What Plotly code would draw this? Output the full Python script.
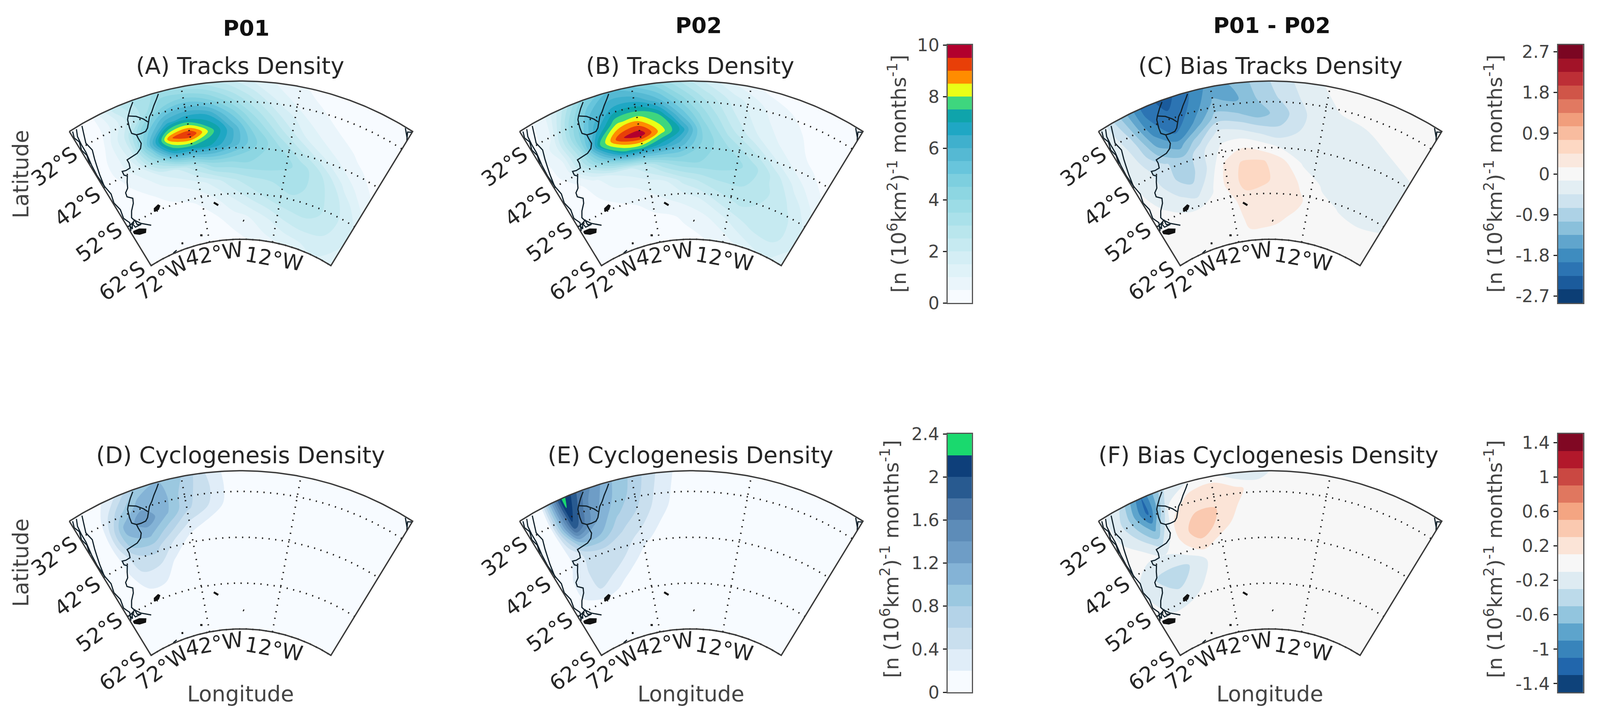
import numpy as np
import plotly.graph_objects as go
from plotly.colors import sample_colorscale

W, H = 4196, 1842

# ---------- field grid (degrees) ----------
lons = [-72, -66, -60, -54, -48, -42, -36, -30, -24, -16, -8, 0, 9, 18]
lats = [-27.5, -31, -34.5, -38, -41, -45, -49, -53, -57, -62]

tracks_p01 = [
    [.2, .3, 2.2, 3.2, 3.6, 3.2, 2.8, 2.2, 1.5, .8, .4, .25, .2, .2],
    [.2, .3, 1.5, 3.0, 4.5, 5.0, 4.5, 3.5, 2.5, 1.2, .6, .3, .2, .2],
    [.2, .5, 2.0, 4.5, 6.3, 6.8, 6.5, 5.0, 3.5, 2.0, 1.0, .5, .3, .2],
    [.2, .6, 1.8, 5.5, 8.9, 9.6, 7.8, 6.2, 4.5, 2.8, 1.5, .8, .4, .2],
    [.2, .6, 1.5, 4.0, 6.8, 7.2, 7.0, 6.0, 4.8, 3.6, 2.4, 1.3, .6, .3],
    [.2, .4, .8, 1.5, 2.0, 3.0, 4.0, 4.0, 4.0, 3.8, 3.4, 2.5, 1.2, .5],
    [.2, .2, .4, .7, 1.0, 1.3, 1.8, 2.4, 2.8, 3.0, 3.2, 2.8, 2.0, 1.0],
    [.1, .2, .2, .3, .4, .6, 1.0, 1.5, 2.0, 2.5, 2.8, 2.8, 2.2, 1.5],
    [.1, .1, .1, .2, .2, .3, .5, .8, 1.0, 1.5, 2.0, 2.2, 2.0, 1.5],
    [.1, .1, .1, .1, .2, .2, .2, .3, .5, .8, 1.0, 1.2, 1.5, 1.2],
]
tracks_p02 = [
    [.3, .6, 2.5, 4.5, 5.5, 5.0, 4.2, 3.0, 2.0, 1.0, .4, .2, .1, .1],
    [.2, .8, 3.5, 5.5, 6.5, 6.6, 5.6, 4.2, 3.0, 1.8, 1.0, .5, .2, .1],
    [.2, 1.3, 4.0, 6.2, 7.9, 8.2, 7.6, 5.4, 3.8, 2.2, 1.2, .7, .3, .2],
    [.2, 1.0, 3.5, 7.5, 9.4, 9.9, 8.3, 6.9, 4.5, 2.8, 1.6, .9, .4, .2],
    [.2, .8, 3.0, 5.3, 7.4, 7.6, 6.8, 5.8, 4.5, 3.5, 2.5, 1.3, .6, .3],
    [.2, .3, .8, 1.5, 1.8, 2.5, 3.5, 4.0, 4.0, 3.8, 3.4, 2.4, 1.2, .5],
    [.2, .2, .5, .8, 1.0, 1.2, 1.5, 2.2, 2.6, 3.0, 3.0, 2.6, 1.9, 1.0],
    [.1, .2, .3, .3, .5, .8, 1.0, 1.2, 1.5, 2.2, 2.6, 2.4, 2.2, 1.5],
    [.1, .1, .1, .2, .3, .3, .4, .6, .8, 1.2, 1.8, 2.2, 2.2, 1.6],
    [.1, .1, .1, .1, .1, .2, .2, .3, .4, .6, .9, 1.3, 1.6, 1.2],
]
tracks_bias = [
    [-.1, -1.0, -2.0, -2.4, -2.0, -1.5, -1.3, -.9, -.6, -.2, -.05, 0, 0, 0],
    [-.1, -.8, -1.9, -2.2, -1.9, -1.3, -1.4, -1.0, -.7, -.3, -.1, -.1, 0, 0],
    [-.1, -.6, -1.6, -2.1, -1.6, -.9, -1.0, -1.2, -.9, -.4, -.2, -.15, -.05, 0],
    [-.1, -.5, -1.2, -1.5, -.9, -.3, -.4, -.6, -.7, -.35, -.2, -.2, -.15, -.05],
    [-.1, -.4, -.7, -1.0, -.5, -.1, .05, -.1, -.3, -.4, -.3, -.25, -.2, -.16],
    [-.1, -.3, -.7, -.9, -.45, .2, .5, .5, .3, -.2, -.3, -.25, -.25, -.17],
    [0, -.2, -.4, -.6, -.2, .25, .55, .5, .4, .1, -.2, -.25, -.25, -.17],
    [0, 0, -.1, -.1, -.05, .05, .35, .35, .2, .2, -.05, -.17, -.2, -.16],
    [0, 0, -.05, -.05, 0, .05, .2, .2, .2, .1, 0, -.05, -.1, -.1],
    [0, 0, 0, 0, 0, .05, .1, .1, .05, 0, -.1, -.1, -.05, 0],
]
genesis_p01 = [
    [.02, .05, .35, .85, 1.0, .8, .4, .1, .02, .02, .02, .02, .02, .02],
    [.02, .1, .7, 1.1, 1.1, .7, .45, .12, .02, .02, .02, .02, .02, .02],
    [.02, .15, 1.05, 1.35, 1.05, .65, .4, .1, .02, .02, .02, .02, .02, .02],
    [.02, .15, .95, 1.05, .7, .35, .15, .04, .02, .02, .02, .02, .02, .02],
    [.02, .12, .6, .7, .4, .12, .03, .02, .02, .02, .02, .02, .02, .02],
    [.02, .1, .4, .4, .15, .03, .02, .02, .02, .02, .02, .02, .02, .02],
    [.02, .08, .2, .2, .05, .02, .02, .02, .02, .02, .02, .02, .02, .02],
    [.02, .03, .05, .05, .02, .02, .02, .02, .02, .02, .02, .02, .02, .02],
    [.02, .02, .02, .02, .02, .02, .02, .02, .02, .02, .02, .02, .02, .02],
    [.02, .02, .02, .02, .02, .02, .02, .02, .02, .02, .02, .02, .02, .02],
]
genesis_p02 = [
    [.02, .1, 2.3, 1.5, 1.05, .75, .4, .12, .02, .02, .02, .02, .02, .02],
    [.02, .2, 2.15, 1.35, 1.0, .7, .35, .1, .02, .02, .02, .02, .02, .02],
    [.02, .15, 1.9, 1.25, .85, .6, .3, .08, .02, .02, .02, .02, .02, .02],
    [.02, .1, 1.0, 1.0, .65, .45, .2, .05, .02, .02, .02, .02, .02, .02],
    [.02, .15, .45, .6, .5, .3, .1, .03, .02, .02, .02, .02, .02, .02],
    [.02, .25, .45, .5, .35, .1, .03, .02, .02, .02, .02, .02, .02, .02],
    [.02, .25, .4, .3, .1, .02, .02, .02, .02, .02, .02, .02, .02, .02],
    [.02, .05, .05, .03, .02, .02, .02, .02, .02, .02, .02, .02, .02, .02],
    [.02, .02, .02, .02, .02, .02, .02, .02, .02, .02, .02, .02, .02, .02],
    [.02, .02, .02, .02, .02, .02, .02, .02, .02, .02, .02, .02, .02, .02],
]
genesis_bias = [
    [0, -.3, -1.1, -.3, -.1, 0, -.25, -.2, 0, 0, 0, 0, 0, 0],
    [0, -.4, -1.15, -.1, .2, .25, .15, 0, 0, 0, 0, 0, 0, 0],
    [0, -.3, -.8, .1, .3, .3, .1, 0, 0, 0, 0, 0, 0, 0],
    [0, -.1, -.4, .15, .45, .25, 0, 0, 0, 0, 0, 0, 0, 0],
    [0, -.1, -.1, .05, .25, .05, 0, 0, 0, 0, 0, 0, 0, 0],
    [-.1, -.3, -.35, -.3, -.1, 0, 0, 0, 0, 0, 0, 0, 0, 0],
    [-.05, -.3, -.3, -.25, 0, 0, 0, 0, 0, 0, 0, 0, 0, 0],
    [0, -.1, -.1, 0, 0, 0, 0, 0, 0, 0, 0, 0, 0, 0],
    [0, 0, 0, 0, 0, 0, 0, 0, 0, 0, 0, 0, 0, 0],
    [0, 0, 0, 0, 0, 0, 0, 0, 0, 0, 0, 0, 0, 0],
]

# ---------- geography (lon, lat) ----------
atlantic_lon = [-47.9, -48.7, -49.8, -50.7, -51.7, -52.4, -53.1, -53.9, -55.3, -56.6, -56.5, -56.2, -56.9, -58.3, -60, -61.8, -61.7, -62, -63.5, -64.6, -64.6, -63.8, -64.7, -65.4, -66.7, -66.9, -65.4, -66, -67.8, -69, -68.6, -66.9, -63.7]
atlantic_lat = [-27.9, -28.9, -30.1, -31.2, -32.1, -33.25, -34.3, -34.9, -35, -34.9, -35.7, -37, -38, -38.7, -38.9, -39.1, -40, -41, -41.1, -40.9, -41.8, -42.3, -43.5, -44.7, -45.4, -46.3, -47.2, -48.2, -49.5, -50.8, -51.5, -52.9, -54.3]
border1_lon = [-54.6, -55.7, -56.9, -57.4, -57.7, -57.7, -56.6]
border1_lat = [-27.9, -29, -30.4, -31.1, -32.9, -34.2, -34.9]
border2_lon = [-56.9, -55, -53.4, -52.5]
border2_lat = [-30.4, -31.1, -32.2, -33.1]
pacific1_lon = [-68.6, -69.2, -69.9, -69.3, -70, -70.4, -71, -71.6]
pacific1_lat = [-27.9, -29.7, -31.6, -33.6, -35.6, -37, -39.1, -41.8]
pacific2_lon = [-70.2, -70.9, -71.1, -71.1, -71.6, -71.8, -71.5, -71, -71.7, -71, -71.6, -70.5, -71.5]
pacific2_lat = [-27.9, -29.4, -31.3, -33.3, -36.4, -39, -42, -44, -46, -48, -50, -51.5, -53]
pacific3_lon = [-71.3, -71.8, -71.2, -71.8, -71.3, -71.9]
pacific3_lat = [-27.9, -29.3, -30.6, -32.4, -34, -36]
fuego_lon = [-71, -68.5, -66.3, -67, -69.4, -71, -71]
fuego_lat = [-53.6, -53.8, -54.5, -55.1, -54.8, -54.1, -53.6]
strait_lon = [-71.7, -69.8, -68.4, -68.4, -67, -69.5, -69.8, -70.8, -71, -71.7]
strait_lat = [-52.1, -51.9, -51.6, -52.7, -53.1, -53, -51.9, -53, -52.2, -53.2]
falkland_lon = [-60.4, -60, -58.2, -57.8, -58.7, -60.4]
falkland_lat = [-51.9, -51.3, -50.9, -51.2, -51.8, -51.9]
georgia_lon = [-37.6, -36]
georgia_lat = [-53.6, -54.3]
orkney_lon = [-45.6, -44.6]
orkney_lat = [-60.1, -60.2]
elephant_lon = [-54.8, -54]
elephant_lat = [-60.6, -60.7]
peninsula_lon = [-60, -58]
peninsula_lat = [-61.9, -61.6]
sandwich_lon = [-26.1, -25.7]
sandwich_lat = [-57.9, -58]
africa_lon = [16, 17.6, 18, 17, 18]
africa_lat = [-27.7, -29.3, -30, -28.2, -27.7]

# ---------- graticule / map extent ----------
lon_west, lon_east, lon_mid = -72, 18, -27
lat_north, lat_south = -27.5, -62
meridians = [-42, -12]
parallels = [-32, -42, -52, -62]
CONE = 0.711
RHO_SOUTH, RHO_PER_DEG = 445.0, 11.73


def project(lon, lat):
    lon, lat = np.asarray(lon, float), np.asarray(lat, float)
    theta = np.radians(CONE * (lon - lon_mid))
    rho = RHO_SOUTH + RHO_PER_DEG * (lat - lat_south)
    return rho * np.sin(theta), rho * np.cos(theta)


# ---------- colour bins (bottom to top) ----------
track_colors = ['#f7fbff', '#eaf5fb', '#dff2f8', '#d4eef5', '#c6eaf1', '#b9e6ed', '#aae1ea', '#9cdce6', '#8dd6e2', '#7dcfdf',
                '#68c5dc', '#55b9d3', '#3fb0cd', '#1fa7c4', '#0fa4ab', '#3ed67e', '#eaff16', '#ff8c00', '#e83f08', '#b2002d']
genesis_colors = ['#f7fbff', '#e0edf8', '#c9dfee', '#b4d3e8', '#9bc8e0', '#84b3d6', '#6e9dc6', '#5d8cb8', '#4b78a8', '#285a90', '#0e3f7a', '#1ad96e']
bias19_colors = sample_colorscale('RdBu_r', [(i + .5) / 19 for i in range(19)])
bias15_colors = sample_colorscale('RdBu_r', [(i + .5) / 15 for i in range(15)])

track_scale = dict(start=0, size=.5, n=20, colors=track_colors, ticks=[0, 2, 4, 6, 8, 10], labels=['0', '2', '4', '6', '8', '10'])
genesis_scale = dict(start=0, size=.2, n=12, colors=genesis_colors, ticks=[0, .4, .8, 1.2, 1.6, 2, 2.4], labels=['0', '0.4', '0.8', '1.2', '1.6', '2', '2.4'])
bias_t_scale = dict(start=-2.85, size=.3, n=19, colors=bias19_colors, ticks=[-2.7, -1.8, -.9, 0, .9, 1.8, 2.7], labels=['-2.7', '-1.8', '-0.9', '0', '0.9', '1.8', '2.7'])
bias_g_scale = dict(start=-1.5, size=.2, n=15, colors=bias15_colors, ticks=[-1.4, -1, -.6, -.2, .2, .6, 1, 1.4], labels=['-1.4', '-1', '-0.6', '-0.2', '0.2', '0.6', '1', '1.4'])

# ---------- layout constants (pixels of the reference picture) ----------
col_cx = [632, 1813, 3331]
row_y0 = [1057, 2054]
HALF_W, RHO_TOP, RHO_BOT = 480, 870, 360
FONT = 'DejaVu Sans'
INK, GREY = '#262626', '#444444'

panels = [
    (0, 0, tracks_p01, track_scale, '(A) Tracks Density', 629, 168),
    (1, 0, tracks_p02, track_scale, '(B) Tracks Density', 1810, 168),
    (2, 0, tracks_bias, bias_t_scale, '(C) Bias Tracks Density', 3332, 168),
    (0, 1, genesis_p01, genesis_scale, '(D) Cyclogenesis Density', 631, 1164),
    (1, 1, genesis_p02, genesis_scale, '(E) Cyclogenesis Density', 1811, 1164),
    (2, 1, genesis_bias, bias_g_scale, '(F) Bias Cyclogenesis Density', 3327, 1164),
]

fig = go.Figure()
ann = []


def text(px, py, s, size, color=INK, angle=0, bold=False):
    ann.append(dict(xref='paper', yref='paper', x=px / W, y=1 - py / H, text=f'<b>{s}</b>' if bold else s, showarrow=False,
                    xanchor='center', yanchor='middle', textangle=angle, font=dict(family=FONT, size=size, color=color)))


axes = {}
lat_ticks = [('32°S', -490, -631), ('42°S', -429, -529), ('52°S', -372, -437), ('62°S', -311, -338)]
lon_ticks = [('72°W', -207, -345, -36), ('42°W', -70, -407, -10), ('12°W', 87, -394, 10)]
geo_lines = [(atlantic_lon, atlantic_lat), (border1_lon, border1_lat), (border2_lon, border2_lat), (pacific1_lon, pacific1_lat),
             (pacific2_lon, pacific2_lat), (pacific3_lon, pacific3_lat), (strait_lon, strait_lat), (africa_lon, africa_lat), (peninsula_lon, peninsula_lat)]
geo_blobs = [(fuego_lon, fuego_lat), (falkland_lon, falkland_lat)]
geo_specks = [(georgia_lon, georgia_lat), (orkney_lon, orkney_lat), (elephant_lon, elephant_lat), (sandwich_lon, sandwich_lat)]
DOTS = '3px 14px'

for k, (c, r, field, sc, title, tx, ty) in enumerate(panels, start=1):
    cx, y0 = col_cx[c], row_y0[r]
    xname, yname = f'x{k}', f'y{k}'
    axes[f'xaxis{k}'] = dict(domain=[(cx - HALF_W) / W, (cx + HALF_W) / W], range=[-HALF_W, HALF_W], visible=False, anchor=yname, fixedrange=True)
    axes[f'yaxis{k}'] = dict(domain=[1 - (y0 - RHO_BOT) / H, 1 - (y0 - RHO_TOP) / H], range=[RHO_BOT, RHO_TOP], visible=False, anchor=xname, fixedrange=True)

    lo, la = np.meshgrid(lons, lats[::-1])
    gx, gy = project(lo, la)
    fig.add_trace(go.Carpet(carpet=f'c{k}', a=lons, b=lats[::-1], x=gx, y=gy, xaxis=xname, yaxis=yname,
                            aaxis=dict(showgrid=False, showticklabels='none', startline=False, endline=False, minorgridcount=0, tickmode='array', tickvals=[], linewidth=0),
                            baxis=dict(showgrid=False, showticklabels='none', startline=False, endline=False, minorgridcount=0, tickmode='array', tickvals=[], linewidth=0)))
    nc = sc['n'] + 1
    regions = [sc['colors'][0]] + list(sc['colors']) + [sc['colors'][-1]]
    cscale = [[i / nc, col] for i, col in enumerate(regions)]
    fig.add_trace(go.Contourcarpet(carpet=f'c{k}', a=lons, b=lats[::-1], z=field[::-1], xaxis=xname, yaxis=yname, autocontour=False,
                                   contours=dict(coloring='fill', showlines=False, start=sc['start'], end=sc['start'] + sc['n'] * sc['size'], size=sc['size']),
                                   line=dict(width=0), colorscale=cscale, showscale=False))

    # dotted graticule
    for m in meridians:
        gl = np.linspace(lat_south, lat_north, 40)
        mx, my = project(np.full(40, m), gl)
        fig.add_trace(go.Scatter(x=mx, y=my, mode='lines', xaxis=xname, yaxis=yname, line=dict(color='#1a1a1a', width=4, dash=DOTS), hoverinfo='skip', showlegend=False))
    for p in parallels:
        gl = np.linspace(lon_west, lon_east, 120)
        mx, my = project(gl, np.full(120, p))
        fig.add_trace(go.Scatter(x=mx, y=my, mode='lines', xaxis=xname, yaxis=yname, line=dict(color='#1a1a1a', width=4, dash=DOTS), hoverinfo='skip', showlegend=False))

    # geography
    for glon, glat in geo_lines:
        mx, my = project(glon, glat)
        fig.add_trace(go.Scatter(x=mx, y=my, mode='lines', xaxis=xname, yaxis=yname, line=dict(color='#10202a', width=3), hoverinfo='skip', showlegend=False))
    for glon, glat in geo_blobs:
        mx, my = project(glon, glat)
        fig.add_trace(go.Scatter(x=mx, y=my, mode='lines', fill='toself', fillcolor='#111111', xaxis=xname, yaxis=yname, line=dict(color='#111111', width=3), hoverinfo='skip', showlegend=False))
    for glon, glat in geo_specks:
        mx, my = project(glon, glat)
        fig.add_trace(go.Scatter(x=mx, y=my, mode='lines', xaxis=xname, yaxis=yname, line=dict(color='#111111', width=5), hoverinfo='skip', showlegend=False))

    # frame
    edge_lon = np.r_[np.linspace(lon_west, lon_east, 120), np.linspace(lon_east, lon_west, 120), lon_west]
    edge_lat = np.r_[np.full(120, lat_north), np.full(120, lat_south), lat_north]
    mx, my = project(edge_lon, edge_lat)
    fig.add_trace(go.Scatter(x=mx, y=my, mode='lines', xaxis=xname, yaxis=yname, line=dict(color='#3a3a3a', width=3.5), hoverinfo='skip', showlegend=False))

    # texts
    text(tx, ty, title, 59)
    for s, dx, dy in lat_ticks:
        text(cx + dx, y0 + dy, s, 54, angle=-36)
    for s, dx, dy, ang in lon_ticks:
        text(cx + dx, y0 + dy, s, 54, angle=ang)

# column headers & axis names
text(646, 71, 'P01', 56, color='#111111', bold=True)
text(1832, 64, 'P02', 56, color='#111111', bold=True)
text(3335, 64, 'P01 - P02', 56, color='#111111', bold=True)
text(54, 446, 'Latitude', 55, color=GREY, angle=-90)
text(54, 1440, 'Latitude', 55, color=GREY, angle=-90)
text(631, 1775, 'Longitude', 55, color=GREY)
text(1812, 1775, 'Longitude', 55, color=GREY)
text(3330, 1775, 'Longitude', 55, color=GREY)

# colour bars
cbar_units = '[n (10<sup>6</sup>km<sup>2</sup>)<sup>-1</sup> months<sup>-1</sup>]'
bars = [
    (track_scale, 2485, 2549, 115, 775, 2353, 444),
    (bias_t_scale, 4086, 4152, 115, 775, 3917, 444),
    (genesis_scale, 2485, 2549, 1110, 1771, 2334, 1430),
    (bias_g_scale, 4086, 4152, 1110, 1771, 3917, 1430),
]
for j, (sc, x0, x1, y0, y1, ux, uy) in enumerate(bars, start=7):
    n, s0, ds = sc['n'], sc['start'], sc['size']
    step = []
    for i, col in enumerate(sc['colors']):
        step += [[i / n, col], [(i + 1) / n, col]]
    centres = [s0 + (i + .5) * ds for i in range(n)]
    fig.add_trace(go.Heatmap(x=[.5], y=centres, z=[[i + .5] for i in range(n)], xaxis=f'x{j}', yaxis=f'y{j}', zmin=0, zmax=n,
                             colorscale=step, showscale=False, hoverinfo='skip'))
    axes[f'xaxis{j}'] = dict(domain=[x0 / W, x1 / W], range=[0, 1], anchor=f'y{j}', showticklabels=False, ticks='', showgrid=False, zeroline=False,
                             showline=True, mirror=True, linecolor='#555555', linewidth=3, fixedrange=True)
    axes[f'yaxis{j}'] = dict(domain=[1 - y1 / H, 1 - y0 / H], range=[s0, s0 + n * ds], anchor=f'x{j}', side='left', tickmode='array', tickvals=sc['ticks'], ticktext=sc['labels'],
                             ticks='outside', ticklen=9, tickwidth=3, tickcolor='#222222', tickfont=dict(family=FONT, size=45, color=GREY), showgrid=False, zeroline=False,
                             showline=True, mirror=True, linecolor='#555555', linewidth=3, fixedrange=True)
    text(ux, uy, cbar_units, 52, color=GREY, angle=-90)

# The figure fills the browser window width; height is fixed to the picture's height.
fig.update_layout(autosize=True, margin=dict(l=0, r=0, t=0, b=0, autoexpand=False), paper_bgcolor='white', plot_bgcolor='rgba(0,0,0,0)',
                  showlegend=False, annotations=ann, **axes)
fig.write_html('out.html', default_width='100%', default_height=f'{H}px', config=dict(displayModeBar=False),
               post_script="document.body.style.margin='0';document.documentElement.style.overflow='hidden';"
                           "Plotly.Plots.resize(document.getElementById('{plot_id}'));")
